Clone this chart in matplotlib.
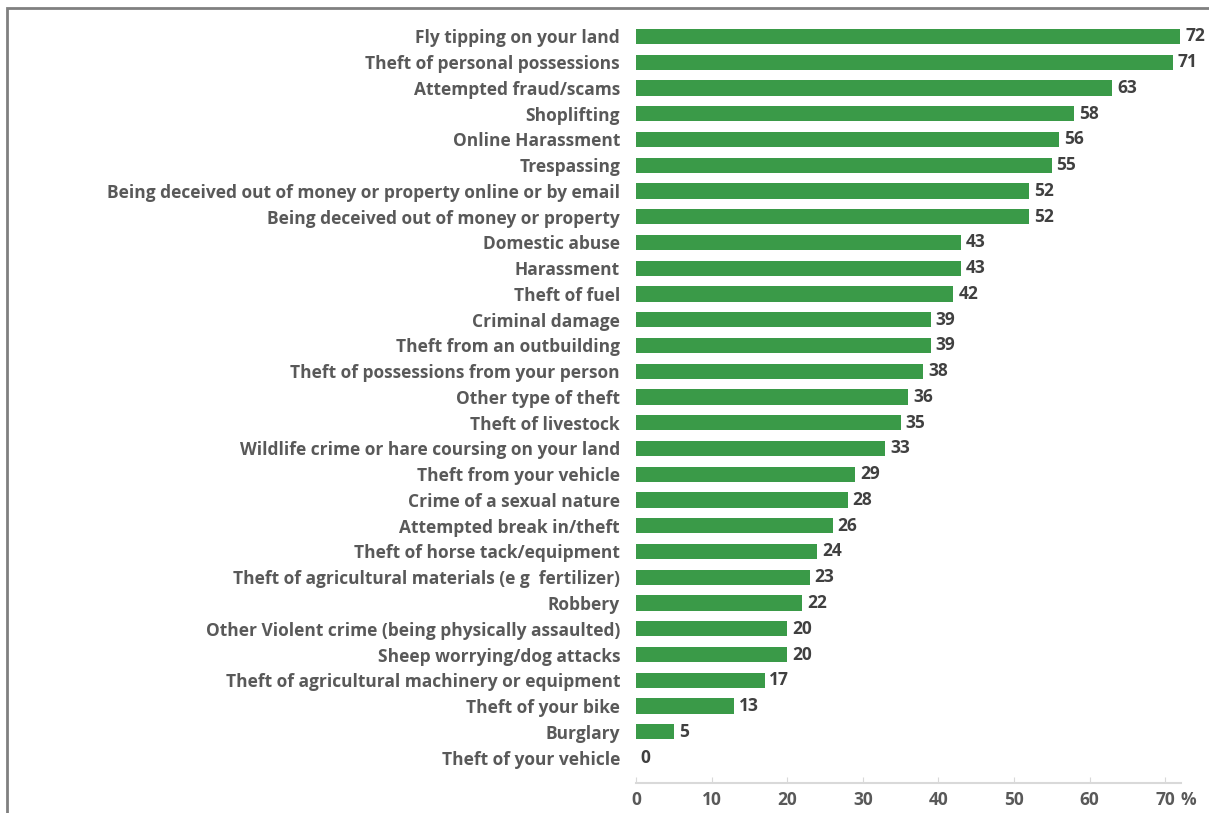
import matplotlib.pyplot as plt
from matplotlib.patches import Rectangle

categories = [
    "Fly tipping on your land",
    "Theft of personal possessions",
    "Attempted fraud/scams",
    "Shoplifting",
    "Online Harassment",
    "Trespassing",
    "Being deceived out of money or property online or by email",
    "Being deceived out of money or property",
    "Domestic abuse",
    "Harassment",
    "Theft of fuel",
    "Criminal damage",
    "Theft from an outbuilding",
    "Theft of possessions from your person",
    "Other type of theft",
    "Theft of livestock",
    "Wildlife crime or hare coursing on your land",
    "Theft from your vehicle",
    "Crime of a sexual nature",
    "Attempted break in/theft",
    "Theft of horse tack/equipment",
    "Theft of agricultural materials (e g  fertilizer)",
    "Robbery",
    "Other Violent crime (being physically assaulted)",
    "Sheep worrying/dog attacks",
    "Theft of agricultural machinery or equipment",
    "Theft of your bike",
    "Burglary",
    "Theft of your vehicle",
]
values = [72, 71, 63, 58, 56, 55, 52, 52, 43, 43, 42, 39, 39, 38, 36, 35, 33,
          29, 28, 26, 24, 23, 22, 20, 20, 17, 13, 5, 0]
xticks = [0, 10, 20, 30, 40, 50, 60, 70]
xticklabels = ["0", "10", "20", "30", "40", "50", "60", "70"]

plt.rcParams['font.family'] = ['Open Sans', 'DejaVu Sans']
text_col = '#595959'
bar_col = '#3A9A48'
fs = 12.5

W, H = 1209, 813
fig = plt.figure(figsize=(W / 100, H / 100), dpi=100)
ax = fig.add_axes([636 / W, 1 - 783 / H, (1181 - 636) / W, (783 - 23.6) / H])

pos = list(range(len(categories)))
ax.barh(pos, values, height=0.6, color=bar_col)
for p, v in zip(pos, values):
    ax.annotate(str(v), (v, p), xytext=(3.5, 0), textcoords='offset points',
                va='center', ha='left', fontsize=fs, fontweight='bold',
                color='#404040')

ax.set_xlim(0, 72.1)
ax.set_ylim(len(categories) - 1 + 0.99, -0.5)
ax.set_yticks(pos)
ax.set_yticklabels(categories, fontsize=fs, fontweight='bold', color=text_col)
ax.set_xticks(xticks)
ax.set_xticklabels(xticklabels, fontsize=fs, fontweight='bold', color=text_col)
ax.tick_params(axis='y', length=0, pad=11.5)
ax.tick_params(axis='x', length=4, direction='in', color='#d9d9d9', pad=6)
# percent sign after the last tick label
ax.annotate('%', (70, 0), xycoords=('data', 'axes fraction'), xytext=(11, -6),
            textcoords='offset points', ha='left', va='top', fontsize=fs,
            fontweight='bold', color=text_col)

for s in ['top', 'right', 'left']:
    ax.spines[s].set_visible(False)
ax.spines['bottom'].set_color('#d9d9d9')
ax.spines['bottom'].set_linewidth(1.5)

# outer frame, only left and top edges fall inside the image
fig.patches.append(Rectangle((7 / W, -0.2), 1.5, 1.2 - 8 / H,
                             transform=fig.transFigure, fill=False,
                             edgecolor='#808080', linewidth=2))

fig.savefig('out.png', dpi=100)
